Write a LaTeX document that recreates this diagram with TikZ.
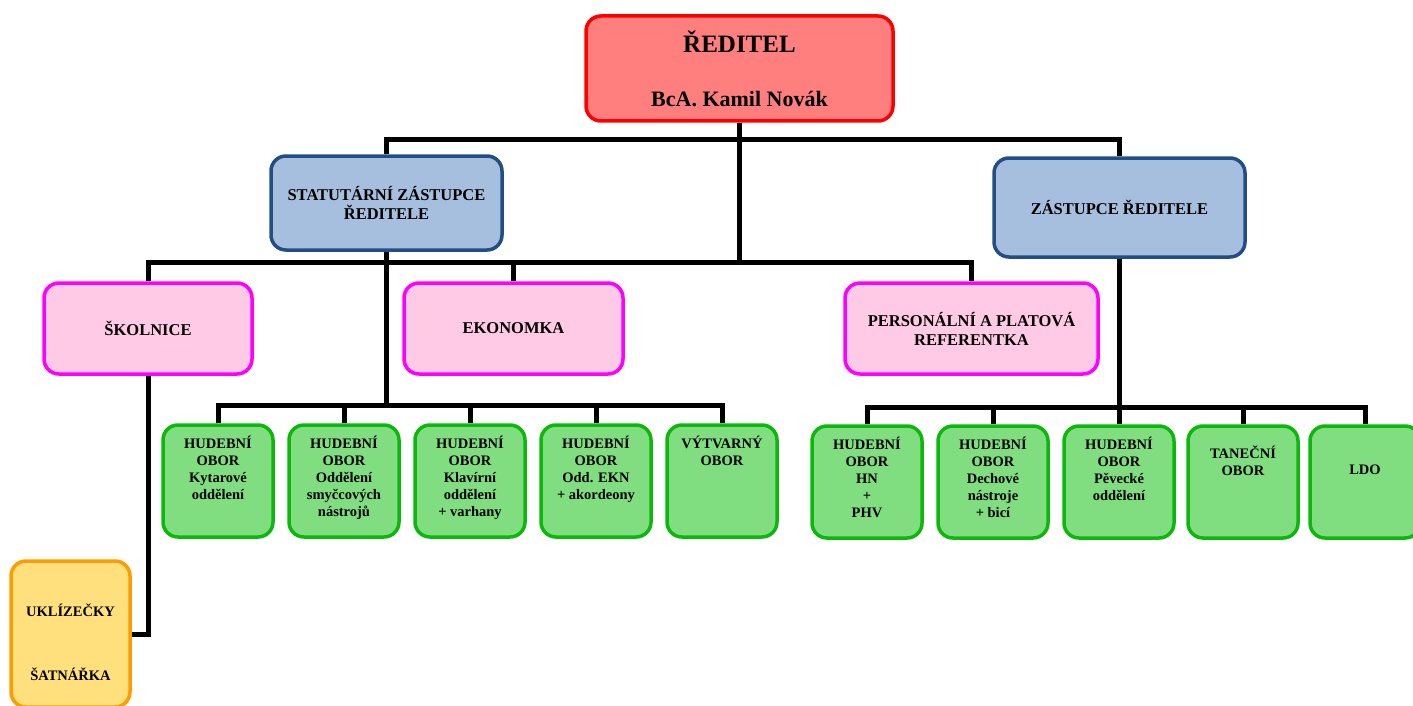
\documentclass[tikz,border=0pt]{standalone}
\usepackage{fontspec}
\setmainfont{Liberation Serif}
\usepackage{tikz}

\definecolor{bossfill}{HTML}{FF7F7F}
\definecolor{bossline}{HTML}{FF0000}
\definecolor{deputyfill}{HTML}{A7BFDE}
\definecolor{deputyline}{HTML}{234E85}
\definecolor{stafffill}{HTML}{FFCAE6}
\definecolor{staffline}{HTML}{FF00FF}
\definecolor{branchfill}{HTML}{80DE80}
\definecolor{branchline}{HTML}{0DB80D}
\definecolor{cleanfill}{HTML}{FFE07D}
\definecolor{cleanline}{HTML}{FF9C00}

\newcommand{\boxtext}[2][3pt]{\parbox[c][96pt][t]{104pt}{\centering\vspace*{#1}#2\par}}

\begin{document}
\begin{tikzpicture}[x=1pt,y=-1pt,node distance=126pt,font=\bfseries]

  \tikzstyle{box}=[rounded corners=15pt,line width=3.5pt,inner sep=0pt]
  \tikzstyle{boss}=[box,align=center,draw=bossline,fill=bossfill,
                    minimum width=307pt,minimum height=105pt,
                    font=\bfseries\fontsize{22}{26}\selectfont]
  \tikzstyle{deputy}=[box,align=center,draw=deputyline,fill=deputyfill,
                      font=\bfseries\fontsize{16.5}{19}\selectfont]
  \tikzstyle{staff}=[box,align=center,draw=staffline,fill=stafffill,
                     minimum height=91pt,
                     font=\bfseries\fontsize{16.5}{19}\selectfont]
  \tikzstyle{branch}=[box,draw=branchline,fill=branchfill,
                      minimum width=110pt,minimum height=112pt,
                      font=\bfseries\fontsize{14.5}{17}\selectfont]
  \tikzstyle{cleaner}=[box,draw=cleanline,fill=cleanfill,
                       minimum width=119pt,minimum height=146pt,
                       font=\bfseries\fontsize{14.5}{17}\selectfont]
  \tikzstyle{wire}=[line width=5pt]

  \useasboundingbox (0,0) rectangle (1413,706);
  \clip (0,0) rectangle (1413,706);

  \node[boss]
    (R1) at (739.5,68.5) {{\fontsize{25}{28}\selectfont ŘEDITEL}\\[28pt]BcA. Kamil Novák};
  \node[deputy, minimum width=231pt, minimum height=94pt]
    (D1) at (386.5,203) {STATUTÁRNÍ ZÁSTUPCE\\ŘEDITELE};
  \node[deputy, minimum width=251pt, minimum height=99pt]
    (D2) at (1119.5,207.5) {ZÁSTUPCE ŘEDITELE};

  \node[staff, minimum width=208pt]
    (S1) at (148,328.5) {ŠKOLNICE};
  \node[staff, minimum width=219pt]
    (S2) at (513.5,328.5) {EKONOMKA};
  \node[staff, minimum width=253pt]
    (S3) at (971.5,328.5) {PERSONÁLNÍ A PLATOVÁ\\REFERENTKA};

  \node[branch]
    (H1) at (218,481) {\boxtext{HUDEBNÍ\\OBOR\\Kytarové\\oddělení}};
  \node[branch]
    (H2) [right of=H1] {\boxtext{HUDEBNÍ\\OBOR\\Oddělení\\smyčcových\\nástrojů}};
  \node[branch]
    (H3) [right of=H2] {\boxtext{HUDEBNÍ\\OBOR\\Klavírní\\oddělení\\+ varhany}};
  \node[branch]
    (H4) [right of=H3] {\boxtext{HUDEBNÍ\\OBOR\\Odd. EKN\\+ akordeony}};
  \node[branch]
    (H5) [right of=H4] {\boxtext{VÝTVARNÝ\\OBOR}};

  \node[branch]
    (G1) at (867,482) {\boxtext{HUDEBNÍ\\OBOR\\HN\\+\\PHV}};
  \node[branch]
    (G2) [right of=G1] {\boxtext{HUDEBNÍ\\OBOR\\Dechové\\nástroje\\+ bicí}};
  \node[branch]
    (G3) [right of=G2] {\boxtext{HUDEBNÍ\\OBOR\\Pěvecké\\oddělení}};
  \node[branch]
    (G4) [right of=G3, xshift=-2pt] {\boxtext[12pt]{TANEČNÍ\\OBOR}};
  \node[branch]
    (G5) [right of=G4, xshift=-4pt] {\boxtext[31pt]{LDO}};

  \node[cleaner]
    (U1) at (70.5,634) {\parbox[c][130pt][t]{110pt}{\centering\vspace*{35pt}UKLÍZEČKY\\[47pt]ŠATNÁŘKA\par}};

  \coordinate (busA) at (739.5,140);
  \coordinate (busB) at (739.5,262);
  \coordinate (busC) at (386.5,405);
  \coordinate (busD) at (1119.5,407);

  \draw[wire] (R1.south) -- (busB);
  \draw[wire] (D1.north) |- (busA) -| (D2.north);
  \draw[wire] (S1.north) |- (busB) -| (S3.north);
  \draw[wire] (D1.south) -- (busC);
  \draw[wire] (H1.north) |- (busC) -| (H5.north);
  \draw[wire] (D2.south) -- (busD);
  \draw[wire] (G1.north) |- (busD) -| (G5.north);
  \draw[wire] (S1.south) |- (U1.east);

  \path[wire] (S2.north) edge (S2.north |- busB)
              (H2.north) edge (H2.north |- busC)
              (H3.north) edge (H3.north |- busC)
              (H4.north) edge (H4.north |- busC)
              (G2.north) edge (G2.north |- busD)
              (G3.north) edge (G3.north |- busD)
              (G4.north) edge (G4.north |- busD);

\end{tikzpicture}
\end{document}
